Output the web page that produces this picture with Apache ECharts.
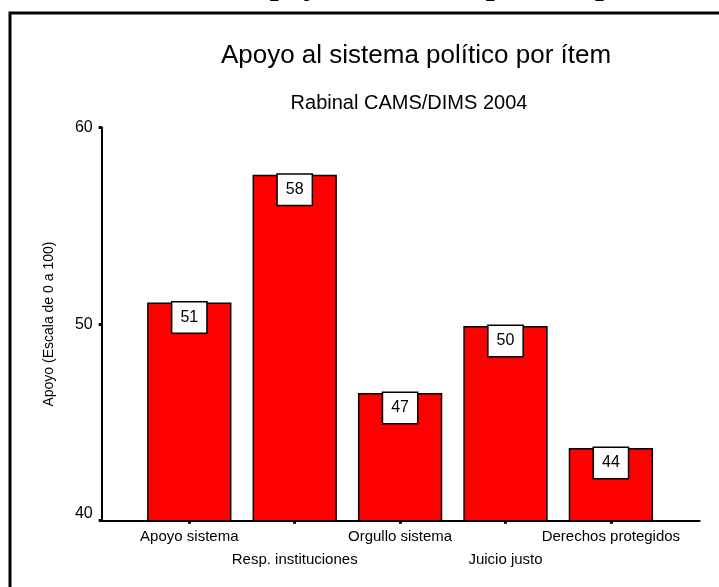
<!DOCTYPE html>
<html>
<head>
<meta charset="utf-8">
<script src="https://cdn.jsdelivr.net/npm/echarts@6/dist/echarts.min.js"></script>
<style>
html,body{margin:0;padding:0;background:#fff;}
#c{width:719px;height:587px;}
</style>
</head>
<body>
<div id="c"></div>
<script>
const categories = ['Apoyo sistema', 'Resp. instituciones', 'Orgullo sistema', 'Juicio justo', 'Derechos protegidos'];
const values = [51.1, 57.6, 46.5, 49.9, 43.7];
const yMin = 40, yMax = 60, yStep = 10;
const pageTitle = 'Apoyo al sistema político por ítem';
const chartTitle = 'Apoyo al sistema político por ítem';
const chartSubtitle = 'Rabinal CAMS/DIMS 2004';
const yName = 'Apoyo (Escala de 0 a 100)';

const FONT = '"Liberation Sans", Arial, sans-serif';
const chart = echarts.init(document.getElementById('c'), null, {renderer: 'canvas'});

const gridTop = 127.5, gridH = 393.2;

chart.setOption({
  animation: false,
  backgroundColor: '#fff',
  title: [
    {text: chartTitle, left: 411, top: 38, textAlign: 'center',
     textStyle: {fontFamily: FONT, fontSize: 26, fontWeight: 'normal', color: '#000'}},
    {text: chartSubtitle, left: 404, top: 88, textAlign: 'center',
     textStyle: {fontFamily: FONT, fontSize: 20, fontWeight: 'normal', color: '#000'}}
  ],
  graphic: [
    {type: 'rect', shape: {x: 10, y: 13, width: 800, height: 700},
     style: {fill: 'none', stroke: '#000', lineWidth: 3}, silent: true},
    {type: 'text', x: 479, y: -14,
     style: {text: pageTitle, font: 'bold 32px "Liberation Serif", "Times New Roman", serif',
             fill: '#000', textAlign: 'center', textVerticalAlign: 'middle', verticalAlign: 'middle'}}
  ],
  grid: [
    {left: 101.7, top: gridTop, width: 598, height: gridH, containLabel: false},
    {left: 136.6, top: gridTop, width: 527, height: gridH, containLabel: false}
  ],
  xAxis: [
    {type: 'value', gridIndex: 0, min: 0, max: 1,
     axisLine: {show: true, lineStyle: {color: '#000', width: 2}},
     axisTick: {show: false}, axisLabel: {show: false}, splitLine: {show: false}},
    {type: 'category', gridIndex: 1, data: categories,
     axisLine: {show: false},
     axisTick: {show: true, alignWithLabel: true, length: 3, lineStyle: {color: '#000', width: 3}},
     axisLabel: {interval: 0, margin: 5, fontFamily: FONT, fontSize: 15, color: '#000', lineHeight: 23,
       formatter: (v, i) => (i % 2 === 1 ? '\n' + v : v)},
     splitLine: {show: false}}
  ],
  yAxis: [
    {type: 'value', gridIndex: 0, min: yMin, max: yMax, interval: yStep,
     name: yName, nameLocation: 'middle', nameRotate: 90, nameGap: 46,
     nameTextStyle: {fontFamily: FONT, fontSize: 14, color: '#000'},
     axisLine: {show: true, lineStyle: {color: '#000', width: 2}},
     axisTick: {show: true, length: 3, lineStyle: {color: '#000', width: 3}},
     axisLabel: {margin: 9, fontFamily: FONT, fontSize: 16, color: '#000',
       formatter: v => (v === yMin ? '{low|' + v + '}' : String(v)),
       rich: {low: {fontFamily: FONT, fontSize: 16, color: '#000', padding: [0, 0, 14, 0]}}},
     splitLine: {show: false}},
    {type: 'value', gridIndex: 1, min: yMin, max: yMax, interval: yStep, show: false, splitLine: {show: false}}
  ],
  series: [{
    type: 'bar', xAxisIndex: 1, yAxisIndex: 1, data: values, barWidth: '80%',
    itemStyle: {color: '#ff0000', borderColor: '#000', borderWidth: 1.5},
    label: {show: true, position: 'insideTop', distance: 0,
      formatter: p => String(Math.round(p.value)),
      fontFamily: FONT, fontSize: 16, color: '#000', lineHeight: 16,
      backgroundColor: '#fff', borderColor: '#000', borderWidth: 1.5, padding: [7, 8, 7, 8]}
  }]
});
</script>
</body>
</html>
